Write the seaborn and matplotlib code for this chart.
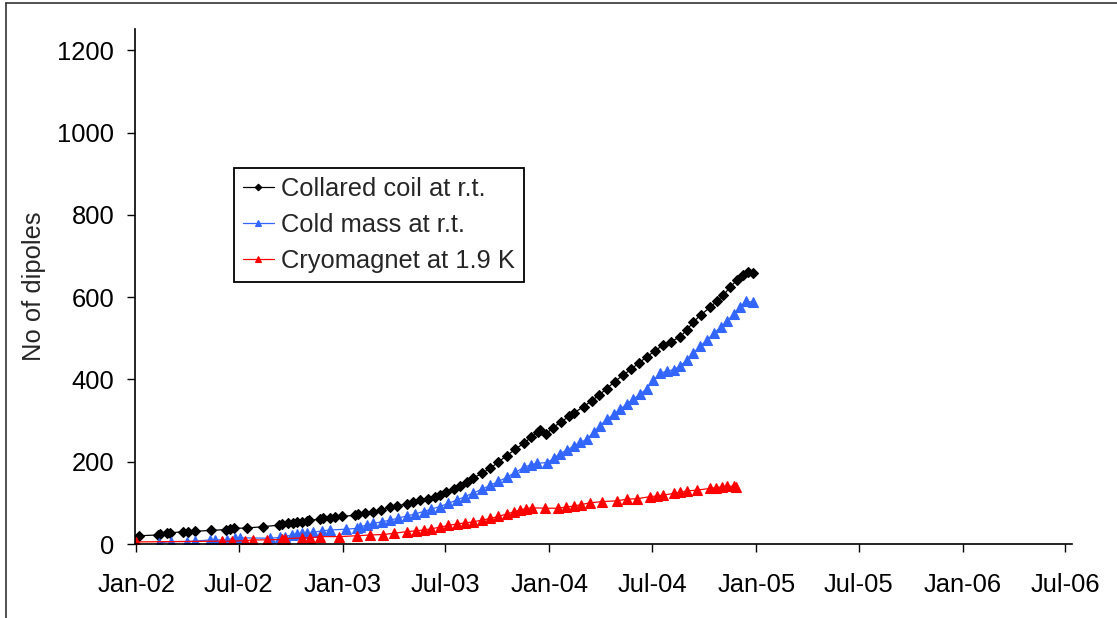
import pandas as pd
import matplotlib
matplotlib.use("Agg")
import matplotlib.pyplot as plt
import matplotlib.dates as mdates
from matplotlib.lines import Line2D
import seaborn as sns

# ---- data ----
coil_dates = [
    "2002-01-06", "2002-02-08", "2002-02-12", "2002-02-24", "2002-03-02", "2002-03-25",
    "2002-04-02", "2002-04-15", "2002-05-13", "2002-06-09", "2002-06-16", "2002-06-23",
    "2002-07-16", "2002-08-13", "2002-09-11", "2002-09-16", "2002-09-27", "2002-10-06",
    "2002-10-12", "2002-10-21", "2002-10-30", "2002-11-03", "2002-11-22", "2002-11-28",
    "2002-12-09", "2002-12-19", "2002-12-31", "2003-01-23", "2003-01-29", "2003-02-10",
    "2003-02-24", "2003-03-09", "2003-03-26", "2003-04-07", "2003-04-24", "2003-05-06",
    "2003-05-18", "2003-05-31", "2003-06-13", "2003-06-22", "2003-07-03", "2003-07-16",
    "2003-07-27", "2003-08-08", "2003-08-20", "2003-09-04", "2003-09-19", "2003-10-03",
    "2003-10-18", "2003-11-02", "2003-11-17", "2003-11-30", "2003-12-13", "2003-12-16",
    "2003-12-27", "2004-01-08", "2004-01-22", "2004-02-05", "2004-02-13", "2004-03-02",
    "2004-03-16", "2004-03-29", "2004-04-12", "2004-04-26", "2004-05-10", "2004-05-25",
    "2004-06-08", "2004-06-22", "2004-07-06", "2004-07-20", "2004-08-03", "2004-08-19",
    "2004-08-31", "2004-09-12", "2004-09-25", "2004-10-11", "2004-10-23", "2004-11-04",
    "2004-11-16", "2004-11-28", "2004-12-09", "2004-12-18", "2004-12-27",
]
coil_values = [
    20, 22, 24, 26, 27, 30,
    30, 31, 33, 35, 37, 38,
    39, 42, 46, 48, 50, 52,
    53, 54, 56, 58, 60, 62,
    64, 65, 67, 70, 72, 75,
    79, 82, 89, 92, 98, 102,
    106, 110, 114, 120, 126, 134,
    142, 151, 160, 172, 184, 199,
    215, 230, 245, 259, 273, 277,
    268, 283, 297, 310, 318, 334,
    348, 362, 378, 395, 410, 425,
    441, 455, 470, 483, 492, 503,
    520, 540, 557, 575, 590, 605,
    625, 642, 655, 661, 658,
]

mass_dates = [
    "2002-02-11", "2002-03-04", "2002-04-01", "2002-04-15", "2002-05-12", "2002-05-21",
    "2002-06-10", "2002-06-25", "2002-07-04", "2002-08-26", "2002-09-13", "2002-09-21",
    "2002-10-03", "2002-10-12", "2002-10-21", "2002-10-30", "2002-11-10", "2002-11-25",
    "2002-12-10", "2003-01-07", "2003-01-26", "2003-02-01", "2003-02-13", "2003-02-24",
    "2003-03-11", "2003-03-26", "2003-04-09", "2003-04-24", "2003-05-09", "2003-05-24",
    "2003-06-07", "2003-06-22", "2003-07-07", "2003-07-22", "2003-08-05", "2003-08-20",
    "2003-09-04", "2003-09-19", "2003-10-03", "2003-10-18", "2003-11-02", "2003-11-17",
    "2003-11-30", "2003-12-10", "2003-12-28", "2004-01-09", "2004-01-20", "2004-02-01",
    "2004-02-13", "2004-02-25", "2004-03-08", "2004-03-20", "2004-03-31", "2004-04-12",
    "2004-04-24", "2004-05-06", "2004-05-17", "2004-05-29", "2004-06-10", "2004-06-22",
    "2004-07-03", "2004-07-15", "2004-07-27", "2004-08-08", "2004-08-19", "2004-08-31",
    "2004-09-12", "2004-09-24", "2004-10-06", "2004-10-18", "2004-10-30", "2004-11-10",
    "2004-11-22", "2004-12-03", "2004-12-14", "2004-12-27",
]
mass_values = [
    3, 6, 6, 7, 10, 10,
    10, 14, 15, 14, 16, 18,
    22, 24, 26, 26, 28, 32,
    34, 36, 38, 42, 46, 50,
    54, 58, 63, 68, 73, 79,
    85, 91, 99, 107, 115, 124,
    133, 143, 152, 162, 174, 186,
    193, 196, 198, 208, 220, 228,
    238, 247, 255, 272, 288, 303,
    315, 328, 340, 352, 365, 378,
    398, 415, 420, 424, 432, 447,
    465, 481, 496, 512, 527, 542,
    558, 575, 590, 588,
]

cryo_dates = [
    "2002-01-01", "2002-06-01", "2002-06-19", "2002-07-13", "2002-07-27", "2002-08-20",
    "2002-09-16", "2002-09-21", "2002-10-21", "2002-11-05", "2002-11-22", "2002-12-26",
    "2003-01-26", "2003-02-19", "2003-03-14", "2003-04-01", "2003-04-24", "2003-05-11",
    "2003-05-24", "2003-06-07", "2003-06-22", "2003-07-07", "2003-07-22", "2003-08-05",
    "2003-08-20", "2003-09-04", "2003-09-19", "2003-10-03", "2003-10-18", "2003-10-30",
    "2003-11-11", "2003-11-21", "2003-12-01", "2003-12-25", "2004-01-17", "2004-01-31",
    "2004-02-13", "2004-02-27", "2004-03-13", "2004-04-03", "2004-04-30", "2004-05-17",
    "2004-06-04", "2004-06-27", "2004-07-10", "2004-07-21", "2004-08-08", "2004-08-20",
    "2004-08-31", "2004-09-18", "2004-10-11", "2004-10-22", "2004-11-01", "2004-11-11",
    "2004-11-22", "2004-11-26",
]
cryo_values = [
    5, 7, 7, 8, 10, 10,
    11, 13, 15, 15, 18, 18,
    20, 22, 23, 26, 30, 32,
    34, 37, 41, 45, 49, 51,
    54, 58, 62, 67, 73, 78,
    83, 86, 88, 87, 87, 90,
    92, 96, 100, 103, 105, 109,
    110, 115, 117, 119, 123, 126,
    129, 131, 135, 137, 139, 140,
    141, 139,
]

series_labels = ["Collared coil at r.t.", "Cold mass at r.t.", "Cryomagnet at 1.9 K"]
series_colors = ["#000000", "#3366FF", "#FF0000"]
series_markers = ["D", "^", "^"]
y_ticks = [0, 200, 400, 600, 800, 1000, 1200]

sns.set_style("white")
plt.rcParams["font.family"] = ["Liberation Sans", "DejaVu Sans"]
FS = 18.4

W, H = 1117, 618
fig = plt.figure(figsize=(W / 100, H / 100), dpi=100)
ax = fig.add_axes([135 / W, 1 - 544 / H, (1072 - 135) / W, (544 - 29) / H])

series = [
    (coil_dates, coil_values),
    (mass_dates, mass_values),
    (cryo_dates, cryo_values),
]
for (d, v), lab, col, mk in zip(series, series_labels, series_colors, series_markers):
    sns.lineplot(
        x=pd.to_datetime(d), y=v, ax=ax, label=lab, color=col,
        marker=mk, markersize=5.6 if mk == "D" else 7.4,
        markeredgecolor=col, markeredgewidth=0.8, linewidth=0.9,
    )

ax.set_xlim(pd.Timestamp("2001-12-30"), pd.Timestamp("2006-07-13"))
ax.set_ylim(0, 1252)
ax.set_yticks(y_ticks)
ax.xaxis.set_major_locator(mdates.MonthLocator(bymonth=[1, 7]))
ax.xaxis.set_major_formatter(mdates.DateFormatter("%b-%y"))

ax.set_xlabel("")
ax.set_ylabel("No of dipoles", fontsize=FS, labelpad=8)
ax.tick_params(axis="x", direction="out", length=6, width=1, pad=15,
               labelsize=FS, colors="black", bottom=True)
ax.tick_params(axis="y", direction="out", length=6, width=1, pad=9,
               labelsize=FS, colors="black", left=True)

for side in ["top", "right"]:
    ax.spines[side].set_visible(False)
for side in ["left", "bottom"]:
    ax.spines[side].set_color("black")
    ax.spines[side].set_linewidth(1.2)
ax.grid(False)

leg = ax.legend(
    loc="upper left", bbox_to_anchor=((234 - 135) / (1072 - 135), (544 - 168) / (544 - 29)),
    borderaxespad=0, fontsize=FS, frameon=True, fancybox=False, framealpha=1,
    edgecolor="black", handlelength=1.2, handletextpad=0.3, labelspacing=0.47,
    borderpad=0.35, markerscale=0.6,
)
leg.get_frame().set_linewidth(1.3)

# outer chart-area border (left and top edges visible)
fig.add_artist(Line2D([5.5 / W, 5.5 / W], [0, 1 - 3 / H], color="#333333", linewidth=1.2))
fig.add_artist(Line2D([5.5 / W, 1], [1 - 3 / H, 1 - 3 / H], color="#333333", linewidth=1.2))

fig.savefig("out.png", dpi=100)
